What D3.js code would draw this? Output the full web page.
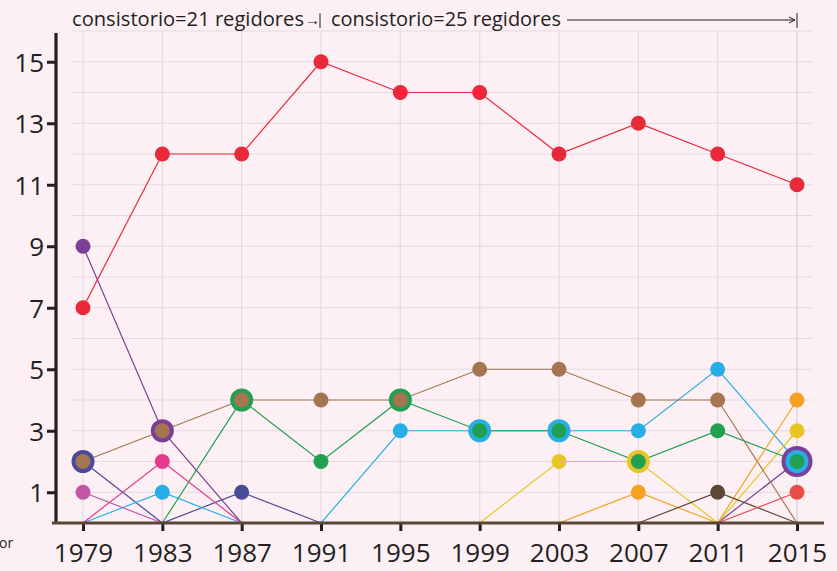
<!DOCTYPE html>
<html>
<head>
<meta charset="utf-8">
<script src="https://cdn.jsdelivr.net/npm/d3@7"></script>
<style>
  html, body { margin: 0; padding: 0; background: #fcf0f4; }
  svg { display: block; font-family: "Open Sans", "Noto Sans", sans-serif; }
  .grid line { stroke: #e4dadf; stroke-width: 1.2; }
  .tick text { fill: #231f20; }
</style>
</head>
<body>
<div id="chart"></div>
<script>
// Election years
const years = [1979, 1983, 1987, 1991, 1995, 1999, 2003, 2007, 2011, 2015];
const yTicks = [1, 3, 5, 7, 9, 11, 13, 15];

// Seats per party (null = party not running / not shown)
// order matters: earlier series are drawn underneath (as rings)
const purpleSeats = [9, 3, 0, null, null, null, null, null, 0, 2];
const indigoSeats = [2, 0, 1, 0, null, null, null, null, null, null];
const cyanSeats = [0, 1, 0, 0, 3, 3, 3, 3, 5, 2];
const yellowSeats = [null, null, null, null, null, 0, 2, 2, 0, 3];
const greenSeats = [null, 0, 4, 2, 4, 3, 3, 2, 3, 2];
const brownSeats = [2, 3, 4, 4, 4, 5, 5, 4, 4, 0];
const magentaSeats = [1, 0, null, null, null, null, null, null, null, null];
const pinkSeats = [0, 2, 0, null, null, null, null, null, null, null];
const orangeSeats = [null, null, null, null, null, null, 0, 1, 0, 4];
const darkBrownSeats = [null, null, null, null, null, null, null, 0, 1, 0];
const lightRedSeats = [null, null, null, null, null, null, null, null, 0, 1];
const redSeats = [7, 12, 12, 15, 14, 14, 12, 13, 12, 11];

const series = [
  { name: 'purple', color: '#7b3f98', values: purpleSeats },
  { name: 'indigo', color: '#4a4a9a', values: indigoSeats },
  { name: 'cyan', color: '#27aee6', values: cyanSeats },
  { name: 'yellow', color: '#e6c524', values: yellowSeats },
  { name: 'green', color: '#22a052', values: greenSeats },
  { name: 'brown', color: '#a47550', values: brownSeats },
  { name: 'magenta', color: '#c356a6', values: magentaSeats },
  { name: 'pink', color: '#e63b8a', values: pinkSeats },
  { name: 'orange', color: '#f5a223', values: orangeSeats },
  { name: 'darkbrown', color: '#5c4636', values: darkBrownSeats },
  { name: 'lightred', color: '#e94d47', values: lightRedSeats },
  { name: 'red', color: '#e8293a', values: redSeats },
];

const width = 837, height = 571;
const FONT = '"Open Sans", "Noto Sans", sans-serif';

const svg = d3.select('#chart').append('svg')
  .attr('width', width)
  .attr('height', height);

svg.append('rect').attr('width', width).attr('height', height).attr('fill', '#fcf0f4');

const x = d3.scaleLinear().domain([1979, 2015]).range([83, 797]);
const y = d3.scaleLinear().domain([0, 16]).range([523, 31]);

// Grid
const grid = svg.append('g').attr('class', 'grid');
grid.selectAll('.h')
  .data(d3.range(1, 17))
  .enter().append('line')
  .attr('x1', 72).attr('x2', 812)
  .attr('y1', d => y(d)).attr('y2', d => y(d));
grid.selectAll('.v')
  .data(years)
  .enter().append('line')
  .attr('x1', d => x(d)).attr('x2', d => x(d))
  .attr('y1', y(16)).attr('y2', y(0))
  .style('stroke', d => d === 2015 ? '#d8cdd2' : null);

// Y axis
const yAxis = svg.append('g')
  .attr('transform', 'translate(56,0)')
  .call(d3.axisLeft(y).tickValues(yTicks).tickSize(9).tickSizeOuter(0).tickPadding(3))
  .attr('font-family', FONT);
yAxis.select('.domain').remove();
yAxis.append('line')
  .attr('x1', 0).attr('x2', 0)
  .attr('y1', 33).attr('y2', y(0))
  .attr('stroke', '#231f20').attr('stroke-width', 3.2);
yAxis.selectAll('.tick line').attr('stroke', '#231f20').attr('stroke-width', 3);
yAxis.selectAll('.tick text').attr('font-size', 26).attr('dy', '0.36em');

// Lines
const line = d3.line()
  .defined(d => d.v != null)
  .x(d => x(d.year))
  .y(d => y(d.v));

const withYears = s => s.values.map((v, i) => ({ year: years[i], v: v }));

svg.append('g').selectAll('path')
  .data(series)
  .enter().append('path')
  .attr('d', s => line(withYears(s)))
  .attr('fill', 'none')
  .attr('stroke', s => s.color)
  .attr('stroke-width', 1.2);

// X axis
const xAxis = svg.append('g')
  .attr('transform', `translate(0,${y(0)})`)
  .call(d3.axisBottom(x).tickValues(years).tickFormat(d3.format('d')).tickSize(8).tickSizeOuter(0).tickPadding(13))
  .attr('font-family', FONT);
xAxis.select('.domain').remove();
xAxis.append('line')
  .attr('x1', 52).attr('x2', 824)
  .attr('stroke', '#5b4636').attr('stroke-width', 3.2);
xAxis.selectAll('.tick line').attr('stroke', '#231f20').attr('stroke-width', 3).attr('y1', 1);
xAxis.selectAll('.tick text').attr('font-size', 26);

// Dots: a dot shared with later series becomes a ring
const dots = [];
series.forEach((s, si) => {
  s.values.forEach((v, i) => {
    if (v == null || v <= 0) return;
    let under = 0;
    for (let j = si + 1; j < series.length; j++) {
      if (series[j].values[i] === v) under++;
    }
    dots.push({ year: years[i], v: v, color: s.color, r: 7.5 + 4 * under });
  });
});

svg.append('g').selectAll('circle')
  .data(dots)
  .enter().append('circle')
  .attr('cx', d => x(d.year))
  .attr('cy', d => y(d.v))
  .attr('r', d => d.r)
  .attr('fill', d => d.color);

// Top annotation
const note = svg.append('g').attr('fill', '#231f20').attr('font-size', 20).attr('font-family', FONT);
note.append('text')
  .attr('x', 72).attr('y', 26)
  .attr('textLength', 232).attr('lengthAdjust', 'spacingAndGlyphs')
  .text('consistorio=21 regidores');
note.append('text')
  .attr('x', 305).attr('y', 25)
  .attr('font-size', 15)
  .text('→');
note.append('line')
  .attr('x1', 320).attr('x2', 320).attr('y1', 13).attr('y2', 28)
  .attr('stroke', '#231f20').attr('stroke-width', 1);
note.append('text')
  .attr('x', 331).attr('y', 26)
  .attr('textLength', 230).attr('lengthAdjust', 'spacingAndGlyphs')
  .text('consistorio=25 regidores');
note.append('line')
  .attr('x1', 567).attr('x2', 795).attr('y1', 20).attr('y2', 20)
  .attr('stroke', '#231f20').attr('stroke-width', 1);
note.append('path')
  .attr('d', 'M789,17 L795,20 L789,23')
  .attr('fill', 'none').attr('stroke', '#231f20').attr('stroke-width', 1);
note.append('line')
  .attr('x1', 797).attr('x2', 797).attr('y1', 13).attr('y2', 28)
  .attr('stroke', '#231f20').attr('stroke-width', 1);

// Clipped left label
svg.append('text')
  .attr('x', -1).attr('y', 548)
  .attr('font-size', 14).attr('fill', '#231f20').attr('font-family', FONT)
  .text('or');
</script>
</body>
</html>
